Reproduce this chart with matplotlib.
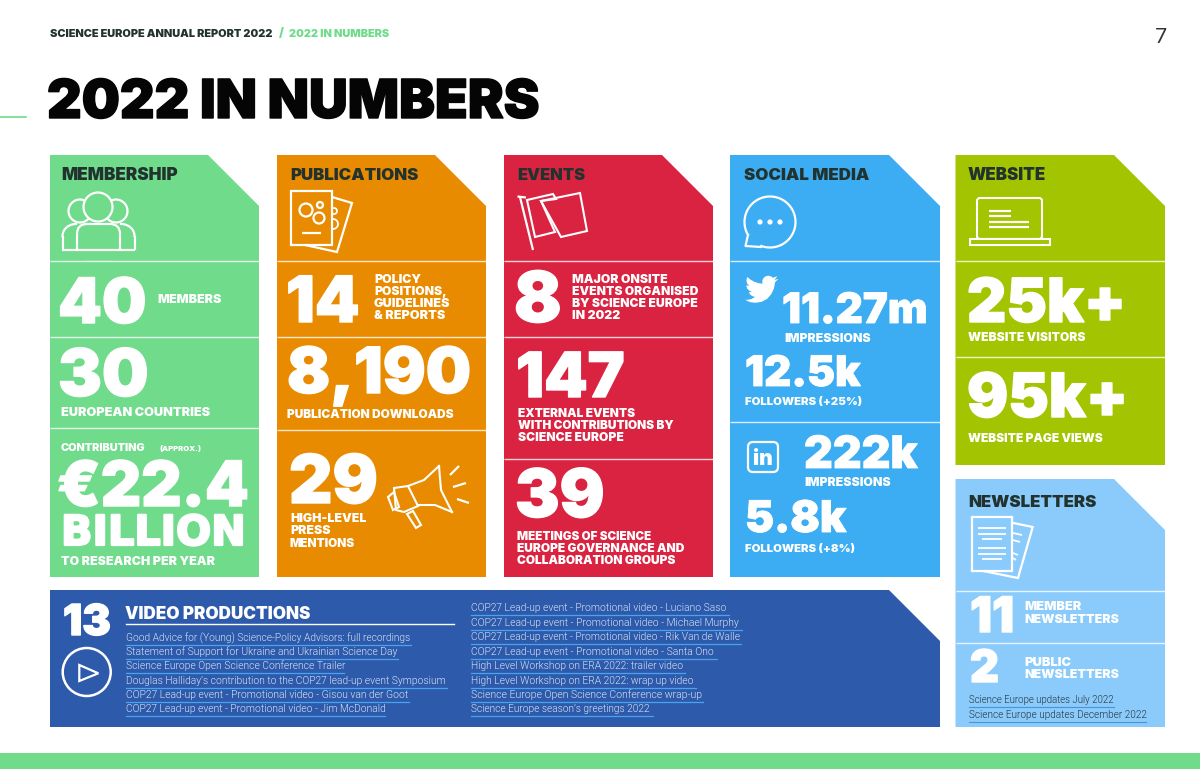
# Science Europe annual report page: "2022 in numbers"

import matplotlib
matplotlib.use("Agg")
import matplotlib.pyplot as plt
import matplotlib.patheffects as pe
from matplotlib.patches import Polygon, Circle, Rectangle, FancyBboxPatch
import numpy as np

page_header = "SCIENCE EUROPE ANNUAL REPORT 2022"
page_section = "2022 IN NUMBERS"
page_title = "2022 IN NUMBERS"
page_number = "7"

section_titles = ["MEMBERSHIP", "PUBLICATIONS", "EVENTS", "SOCIAL MEDIA", "WEBSITE", "NEWSLETTERS"]

membership_numbers = ["40", "30", "€22.4", "BILLION"]
membership_labels = ["MEMBERS", "EUROPEAN COUNTRIES", "CONTRIBUTING", "(APPROX.)", "TO RESEARCH PER YEAR"]

publication_numbers = ["14", "8,190", "29"]
publication_labels = [["POLICY", "POSITIONS,", "GUIDELINES", "& REPORTS"],
                      ["PUBLICATION DOWNLOADS"],
                      ["HIGH-LEVEL", "PRESS", "MENTIONS"]]

event_numbers = ["8", "147", "39"]
event_labels = [["MAJOR ONSITE", "EVENTS ORGANISED", "BY SCIENCE EUROPE", "IN 2022"],
                ["EXTERNAL EVENTS", "WITH CONTRIBUTIONS BY", "SCIENCE EUROPE"],
                ["MEETINGS OF SCIENCE", "EUROPE GOVERNANCE AND", "COLLABORATION GROUPS"]]

social_numbers = ["11.27m", "12.5k", "222k", "5.8k"]
social_labels = ["IMPRESSIONS", "FOLLOWERS (+25%)", "IMPRESSIONS", "FOLLOWERS (+8%)"]

website_numbers = ["25k+", "95k+"]
website_labels = ["WEBSITE VISITORS", "WEBSITE PAGE VIEWS"]

newsletter_numbers = ["11", "2"]
newsletter_labels = [["MEMBER", "NEWSLETTERS"], ["PUBLIC", "NEWSLETTERS"]]
newsletter_links = ["Science Europe updates July 2022", "Science Europe updates December 2022"]

video_number = "13"
video_title = "VIDEO PRODUCTIONS"
video_links_left = ["Good Advice for (Young) Science-Policy Advisors: full recordings",
                    "Statement of Support for Ukraine and Ukrainian Science Day",
                    "Science Europe Open Science Conference Trailer",
                    "Douglas Halliday’s contribution to the COP27 lead-up event Symposium",
                    "COP27 Lead-up event - Promotional video - Gisou van der Goot",
                    "COP27 Lead-up event - Promotional video - Jim McDonald"]
video_links_right = ["COP27 Lead-up event - Promotional video - Luciano Saso",
                     "COP27 Lead-up event - Promotional video - Michael Murphy",
                     "COP27 Lead-up event - Promotional video - Rik Van de Walle",
                     "COP27 Lead-up event - Promotional video - Santa Ono",
                     "High Level Workshop on ERA 2022: trailer video",
                     "High Level Workshop on ERA 2022: wrap up video",
                     "Science Europe Open Science Conference wrap-up",
                     "Science Europe season’s greetings 2022"]

GREEN = "#6FDB8B"
ORANGE = "#E98B00"
RED = "#DA2340"
BLUE = "#3CADF2"
OLIVE = "#A3C400"
LIGHT = "#8ACBFC"
NAVY = "#2D5AAB"
DARK = "#22332F"
WHITE = "#FFFFFF"

fig = plt.figure(figsize=(12, 7.69), dpi=100)
ax = fig.add_axes([0, 0, 1, 1])
ax.set_xlim(0, 1200)
ax.set_ylim(769, 0)
ax.axis("off")
renderer = fig.canvas.get_renderer()


# text placed by baseline and squeezed to the width it has in the page
def fit(x0, x1, base, s, color=WHITE, stroke=0.0, family="Inter", weight=900):
    t = ax.text(x0, base, s, color=color, family=family, weight=weight,
                fontsize=10, ha="left", va="baseline", zorder=5)
    w = t.get_window_extent(renderer).width
    t.set_fontsize(10 * (x1 - x0) / w)
    if stroke > 0:
        t.set_path_effects([pe.withStroke(linewidth=stroke, foreground=color)])
    return t


def card(x0, x1, y0, y1, color, cut=51):
    ax.add_patch(Polygon([(x0, y0), (x1 - cut, y0), (x1, y0 + cut), (x1, y1), (x0, y1)],
                         closed=True, fc=color, ec="none", zorder=1))


def divider(x0, x1, y):
    ax.plot([x0, x1], [y, y], color=WHITE, lw=1.0, alpha=0.8, zorder=2, solid_capstyle="butt")


def outline(points, lw=1.6, closed=True, z=3, fc="none"):
    ax.add_patch(Polygon(points, closed=closed, fc=fc, ec=WHITE, lw=lw, zorder=z, joinstyle="miter"))


def ring(cx, cy, r, lw=1.6, z=3, fc="none"):
    ax.add_patch(Circle((cx, cy), r, fc=fc, ec=WHITE, lw=lw, zorder=z))


def seg(x0, y0, x1, y1, lw=1.6):
    ax.plot([x0, x1], [y0, y1], color=WHITE, lw=lw, zorder=4, solid_capstyle="butt")


def curve(cx, cy, rx, ry, a0, a1, lw=1.6):
    th = np.radians(np.linspace(a0, a1, 60))
    ax.plot(cx + rx * np.cos(th), cy + ry * np.sin(th), color=WHITE, lw=lw, zorder=4)


# header
fit(50, 273, 37, page_header, DARK)
fit(279, 284, 37, "/", GREEN)
fit(289, 389, 37, page_section, GREEN)
ax.text(1161, 43, page_number, color="#333333", family="Lato", fontsize=15, ha="center", va="baseline")
fit(47, 538, 118, page_title, "#050505", 1.0)
ax.plot([0, 26], [117, 117], color=GREEN, lw=1.2, zorder=2)
ax.add_patch(Rectangle((0, 753), 1200, 16, fc=GREEN, ec="none"))

# panels
card(50, 259, 155, 577, GREEN)
card(277, 486, 155, 577, ORANGE)
card(504, 713, 155, 577, RED)
card(730, 940, 155, 577, BLUE)
card(955.5, 1165, 155, 465, OLIVE)
card(955.5, 1165, 479, 727, LIGHT)
card(50, 940, 590, 727, NAVY)

for y in [260.5, 336.5, 428]:
    divider(50, 259, y)
for y in [260.5, 336.5, 430]:
    divider(277, 486, y)
for y in [260.5, 336.5, 459]:
    divider(504, 713, y)
for y in [260.5, 422]:
    divider(730, 940, y)
for y in [260.5, 357]:
    divider(955.5, 1165, y)
for y in [591, 643]:
    divider(955.5, 1165, y)

fit(61, 178, 180, section_titles[0], DARK)
fit(290, 418, 180, section_titles[1], DARK)
fit(517, 585, 180, section_titles[2], DARK)
fit(744, 869, 180, section_titles[3], DARK)
fit(968, 1046, 180, section_titles[4], DARK)
fit(968, 1096, 507, section_titles[5], DARK)

# membership
fit(58, 147, 323, membership_numbers[0], stroke=1.0)
fit(58, 149, 396, membership_numbers[1], stroke=1.0)
fit(57, 250, 506, membership_numbers[2], stroke=1.0)
fit(61, 246, 545, membership_numbers[3], stroke=1.6, family="DejaVu Sans", weight="bold")
fit(157, 221, 303, membership_labels[0])
fit(61, 210, 416, membership_labels[1])
fit(61, 146, 451, membership_labels[2])
fit(159, 201, 451, membership_labels[3])
fit(61, 214, 565, membership_labels[4])

# publications
fit(286, 360, 322, publication_numbers[0], stroke=1.0)
fit(287, 471, 393, publication_numbers[1], stroke=1.0)
fit(289, 378, 503, publication_numbers[2], stroke=1.0)
for s, x1, b in zip(publication_labels[0], [421, 446, 450, 445], [283, 295, 307, 319]):
    fit(374, x1, b, s)
fit(287, 454, 418, publication_labels[1][0])
for s, x1, b in zip(publication_labels[2], [366, 330, 355], [522, 534, 547]):
    fit(290, x1, b, s)

# events
fit(514, 562, 322, event_numbers[0], stroke=1.0)
fit(516, 625, 397, event_numbers[1], stroke=1.0)
fit(515, 605, 517, event_numbers[2], stroke=1.0)
for s, x1, b in zip(event_labels[0], [667, 697, 697, 620], [283, 295, 307, 319]):
    fit(572, x1, b, s)
for s, x1, b in zip(event_labels[1], [635, 674, 623], [417, 429, 441]):
    fit(518, x1, b, s)
for s, x1, b in zip(event_labels[2], [651, 685, 676], [540, 552, 564]):
    fit(517, x1, b, s)

# social media
fit(782, 928, 323, social_numbers[0], stroke=0.6)
fit(745, 861, 386, social_numbers[1], stroke=0.6)
fit(804, 918, 468, social_numbers[2], stroke=0.6)
fit(745, 847, 532, social_numbers[3], stroke=0.6)
fit(784, 870, 342, social_labels[0])
fit(745, 862, 405, social_labels[1])
fit(804, 890, 486, social_labels[2])
fit(745, 855, 552, social_labels[3])

# website
fit(967, 1126, 322, website_numbers[0], stroke=1.0)
fit(967, 1128, 417, website_numbers[1], stroke=1.0)
fit(968, 1084, 341, website_labels[0])
fit(968, 1103, 442, website_labels[1])

# newsletters
fit(970, 1014, 632, newsletter_numbers[0], stroke=1.0)
fit(970, 999, 682, newsletter_numbers[1], stroke=1.0)
fit(1024, 1081, 610, newsletter_labels[0][0])
fit(1024, 1118, 623, newsletter_labels[0][1])
fit(1024, 1071, 666, newsletter_labels[1][0])
fit(1024, 1118, 678, newsletter_labels[1][1])
for s, x1, b in zip(newsletter_links, [1114, 1146], [703, 718]):
    fit(969, x1, b, s, "#24323A", family="Roboto", weight=300)
    ax.plot([969, x1], [b + 3.5, b + 3.5], color="#4C93D6", lw=0.8, zorder=4)

# video productions
fit(63, 111, 635, video_number, stroke=1.0)
fit(125, 310, 619, video_title)
ax.plot([126, 454], [624, 624], color=WHITE, lw=1.0, zorder=4)
for s, x1, b in zip(video_links_left, [410, 397, 343, 446, 408, 384], [641, 655, 669, 684, 698, 712]):
    fit(126, x1, b, s, "#D9E4F4", family="Roboto", weight=300)
    ax.plot([126, x1 + 1], [b + 3.5, b + 3.5], color="#4AA3EE", lw=0.9, zorder=4)
for s, x1, b in zip(video_links_right, [727, 740, 739, 715, 683, 694, 701, 651],
                    [611, 626, 640, 655, 669, 684, 698, 712]):
    fit(471, x1, b, s, "#D9E4F4", family="Roboto", weight=300)
    ax.plot([471, x1 + 2], [b + 3.5, b + 3.5], color="#4AA3EE", lw=0.9, zorder=4)

# icon: members
ring(80, 211, 11.5)
ring(116, 211, 11.5)
ax.add_patch(FancyBboxPatch((77, 224), 43, 35, boxstyle="round,pad=0,rounding_size=10",
                            fc=GREEN, ec=WHITE, lw=1.6, zorder=3.2))
ring(98, 207, 14.5, z=3.4, fc=GREEN)
curve(76, 236, 13.5, 12, 180, 270)
curve(121, 236, 13.5, 12, 270, 360)
seg(62.5, 236, 62.5, 250)
seg(134.5, 236, 134.5, 250)
seg(62, 250, 135, 250)
ax.add_patch(Rectangle((55, 251), 90, 9, fc=GREEN, ec="none", zorder=3.3))

# icon: publications
outline([(332, 197), (352, 203), (337, 252), (305, 245)])
ax.add_patch(Rectangle((291, 191), 41, 54, fc=ORANGE, ec=WHITE, lw=1.6, zorder=3.2))
ring(306, 210, 6.5, z=3.4)
ring(320, 205, 3, z=3.4)
ring(319, 218, 5.5, z=3.4)
curve(334, 211, 3, 3, -90, 90, lw=1.3)
curve(333, 224, 5, 5, -90, 90, lw=1.3)
seg(302, 233, 321, 233)

# icon: flags
outline([(527, 200), (553, 194), (556, 199), (541, 201), (555, 232), (535, 237)], lw=1.5)
outline([(541, 201), (580, 193), (587, 231), (561, 237)], lw=1.5)
seg(520, 197, 533, 250)
seg(517.5, 196.5, 526, 197.5)

# icon: speech bubble
th = np.radians(np.linspace(150, 470, 120))
ax.plot(770 + 25.5 * np.cos(th), 222 + 25.5 * np.sin(th), color=WHITE, lw=1.6, zorder=3)
ax.plot([748, 745.5, 761], [235, 246, 247], color=WHITE, lw=1.6, zorder=3)
for cx in [760, 770, 780]:
    ax.add_patch(Circle((cx, 222), 2.6, fc=WHITE, ec="none", zorder=3))

# icon: twitter bird
bird = np.array([(24, 4.6), (21.2, 5.4), (23.3, 2.6), (20.2, 3.8), (18.6, 2.7), (16.6, 2.3), (14.5, 2.9),
                 (13, 4.4), (12.4, 6.2), (12.6, 8.1), (9.5, 7.6), (6.6, 6.6), (3.9, 5.1), (1.6, 3.2),
                 (1, 5.6), (1.5, 7.9), (3.2, 9.7), (0.9, 9.1), (1.5, 11.5), (3.1, 13.1), (4.9, 14),
                 (2.7, 14.1), (3.9, 16.1), (5.5, 17.1), (7.3, 17.6), (4.6, 19.1), (1.2, 19.7), (0, 19.6),
                 (3.5, 21.3), (7.5, 21.8), (12, 21.1), (15.9, 19), (18.9, 15.6), (20.8, 11.6), (21.5, 7.8),
                 (21.5, 7.2)])
bird = bird * 1.39 + np.array([745, 272.5])
ax.add_patch(Polygon(bird, closed=True, fc=WHITE, ec="none", zorder=3))

# icon: linkedin
ax.add_patch(FancyBboxPatch((748, 442), 30, 30, boxstyle="round,pad=0,rounding_size=5",
                            fc="none", ec=WHITE, lw=1.6, zorder=3))
fit(753.5, 774, 465, "in")

# icon: laptop
ax.add_patch(FancyBboxPatch((977, 198), 65, 41, boxstyle="round,pad=0,rounding_size=3",
                            fc="none", ec=WHITE, lw=1.5, zorder=3))
ax.add_patch(Rectangle((970, 239), 80, 6, fc=OLIVE, ec=WHITE, lw=1.5, zorder=3.2))
seg(989, 210.7, 1011, 210.7)
seg(989, 216, 1011, 216)
seg(989, 221.5, 1029, 221.5)
seg(989, 227, 1029, 227)

# icon: newsletter pages
outline([(1012, 522.7), (1032.7, 527), (1018, 578), (983, 571)])
ax.add_patch(Rectangle((971.7, 517.3), 40.3, 53.7, fc=LIGHT, ec=WHITE, lw=1.6, zorder=3.2))
for y, xa, xb in [(528.3, 978, 1006), (534, 978, 1006), (539, 982, 1002),
                  (548.3, 978, 1006), (554, 978, 1006), (559, 982, 1002)]:
    seg(xa, y, xb, y, lw=1.3)
for ya, yb, xa, xb in [(533, 535, 1013, 1022), (540, 542, 1013, 1020), (553, 555, 1013, 1018), (558, 560, 1013, 1016)]:
    seg(xa, ya, xb, yb, lw=1.3)

# icon: play button
ring(86.7, 672, 24, lw=1.8)
outline([(79.3, 665), (98.3, 673.3), (79.3, 681)], lw=1.6)

# icon: megaphone
outline([(394, 488), (408, 486), (418, 506), (404, 512), (396, 510)], lw=1.5)
outline([(388, 497), (394, 492), (399, 507), (393, 510)], lw=1.5)
ax.plot([408, 424, 439], [486, 480, 466], color=WHITE, lw=1.5, zorder=3)
ax.plot([439, 441, 452], [466, 490, 512], color=WHITE, lw=1.5, zorder=3)
ax.plot([452, 435, 418], [512, 505, 505], color=WHITE, lw=1.5, zorder=3)
outline([(407, 514), (413, 511), (421, 525), (416, 528)], lw=1.5)
seg(450, 475, 459, 466)
seg(453, 487, 466, 483)
seg(457, 499, 469, 503)

fig.savefig("out.png", dpi=100)
